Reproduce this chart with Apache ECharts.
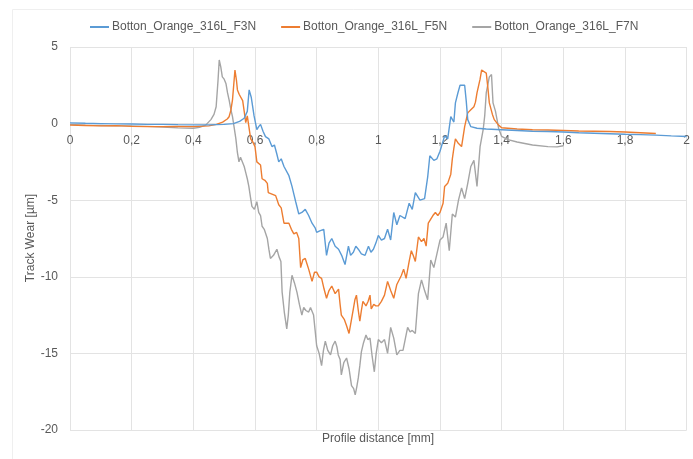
<!DOCTYPE html>
<html>
<head>
<meta charset="utf-8">
<script src="https://cdn.jsdelivr.net/npm/echarts@6/dist/echarts.min.js"></script>
<style>
html,body{margin:0;padding:0;background:#fff;}
#c{width:693px;height:459px;}
</style>
</head>
<body>
<div id="c"></div>
<script>
const seriesNames = ['Botton_Orange_316L_F3N', 'Botton_Orange_316L_F5N', 'Botton_Orange_316L_F7N'];
const xTicks = [0, 0.2, 0.4, 0.6, 0.8, 1, 1.2, 1.4, 1.6, 1.8, 2];
const yTicks = [5, 0, -5, -10, -15, -20];

const xF3 = [0,0.05,0.1,0.15,0.2,0.25,0.3,0.35,0.4,0.45,0.5,0.53,0.55,0.565,0.575,0.581,0.588,0.597,0.606,0.612,0.618,0.626,0.634,0.645,0.655,0.663,0.671,0.677,0.685,0.694,0.70,0.71,0.72,0.726,0.732,0.742,0.752,0.763,0.774,0.785,0.795,0.80,0.81,0.823,0.832,0.84,0.849,0.86,0.871,0.881,0.892,0.903,0.91,0.919,0.927,0.935,0.945,0.957,0.968,0.976,0.984,0.992,1.0,1.01,1.02,1.03,1.04,1.05,1.06,1.07,1.087,1.1,1.11,1.12,1.135,1.15,1.16,1.167,1.18,1.19,1.2,1.215,1.225,1.235,1.245,1.25,1.258,1.265,1.27,1.28,1.285,1.29,1.30,1.32,1.35,1.4,1.45,1.5,1.55,1.6,1.65,1.7,1.75,1.8,1.85,1.9,1.95,2.0];
const yF3 = [0.05,0.02,0.0,-0.02,-0.03,-0.05,-0.05,-0.07,-0.08,-0.08,-0.05,0.0,0.15,0.35,0.8,2.2,1.7,0.5,-0.4,-0.2,-0.05,-0.5,-0.85,-1.0,-1.5,-1.4,-2.0,-2.5,-2.3,-2.8,-2.9,-3.4,-4.1,-4.6,-5.1,-5.9,-5.8,-5.6,-6.0,-6.5,-6.8,-7.1,-7.0,-6.9,-8.6,-7.8,-7.5,-8.0,-8.2,-8.6,-9.2,-8.0,-8.6,-8.4,-8.0,-8.2,-8.5,-8.6,-8.0,-8.4,-8.2,-7.8,-7.3,-7.6,-7.5,-6.9,-7.6,-5.8,-6.6,-6.0,-6.2,-5.2,-5.6,-4.5,-5.0,-4.9,-3.5,-2.1,-2.4,-2.3,-1.8,-0.8,-1.0,0.45,0.1,1.35,2.0,2.5,2.6,2.5,1.5,0.26,-0.2,-0.3,-0.35,-0.4,-0.45,-0.5,-0.52,-0.55,-0.6,-0.63,-0.66,-0.7,-0.72,-0.75,-0.8,-0.84];

const xF5 = [0,0.05,0.1,0.15,0.2,0.25,0.3,0.35,0.4,0.45,0.475,0.495,0.51,0.516,0.522,0.527,0.535,0.54,0.543,0.549,0.555,0.56,0.565,0.57,0.575,0.58,0.586,0.593,0.60,0.606,0.612,0.618,0.623,0.632,0.64,0.643,0.655,0.667,0.677,0.685,0.694,0.70,0.71,0.718,0.726,0.735,0.742,0.748,0.755,0.763,0.774,0.785,0.793,0.80,0.808,0.816,0.824,0.832,0.84,0.849,0.86,0.871,0.876,0.88,0.89,0.897,0.905,0.912,0.919,0.924,0.929,0.935,0.94,0.945,0.95,0.96,0.967,0.973,0.977,0.985,0.992,1.0,1.01,1.02,1.03,1.04,1.05,1.06,1.075,1.082,1.09,1.1,1.107,1.113,1.12,1.13,1.14,1.148,1.155,1.162,1.167,1.177,1.185,1.193,1.2,1.21,1.215,1.225,1.235,1.24,1.245,1.25,1.26,1.27,1.28,1.29,1.30,1.31,1.315,1.32,1.33,1.335,1.34,1.35,1.355,1.36,1.37,1.376,1.39,1.40,1.45,1.5,1.55,1.6,1.65,1.7,1.75,1.8,1.85,1.9];
const yF5 = [-0.1,-0.12,-0.15,-0.13,-0.18,-0.2,-0.2,-0.18,-0.2,-0.15,-0.05,0.1,0.3,0.45,0.9,1.55,3.5,2.8,2.2,1.9,2.0,1.5,0.8,0.06,0.5,0.47,-1.0,-1.2,-1.5,-2.5,-2.4,-2.7,-3.6,-3.7,-3.9,-4.5,-4.6,-4.7,-5.3,-5.5,-6.5,-6.4,-6.5,-6.9,-7.2,-7.1,-7.5,-9.4,-8.9,-8.8,-9.5,-10.3,-9.7,-9.7,-10.0,-10.1,-10.8,-11.4,-10.9,-10.6,-11.1,-10.8,-11.8,-12.5,-12.8,-13.2,-13.7,-12.9,-12.1,-11.5,-11.2,-12.2,-12.9,-12.2,-11.6,-11.9,-11.6,-11.2,-12.1,-11.8,-11.9,-11.9,-11.6,-11.2,-10.3,-10.9,-11.4,-10.5,-9.9,-9.5,-10.1,-9.0,-8.3,-8.6,-9.0,-7.4,-7.7,-7.5,-8.0,-6.5,-6.5,-6.0,-5.8,-6.0,-5.8,-5.2,-4.1,-3.9,-3.3,-2.3,-1.6,-1.0,-1.3,-1.5,-0.2,0.7,0.9,1.1,1.4,2.0,2.9,3.5,3.4,3.3,2.4,1.35,0.6,0.26,-0.1,-0.27,-0.35,-0.4,-0.42,-0.45,-0.48,-0.5,-0.52,-0.55,-0.6,-0.65];

const xF7 = [0,0.05,0.1,0.15,0.2,0.25,0.3,0.35,0.4,0.42,0.44,0.457,0.467,0.474,0.48,0.484,0.489,0.494,0.5,0.506,0.511,0.516,0.522,0.527,0.532,0.538,0.543,0.548,0.553,0.558,0.565,0.57,0.575,0.58,0.586,0.59,0.598,0.606,0.612,0.618,0.623,0.63,0.64,0.645,0.65,0.66,0.671,0.678,0.684,0.688,0.695,0.703,0.708,0.713,0.72,0.728,0.736,0.744,0.752,0.758,0.765,0.774,0.78,0.79,0.795,0.80,0.808,0.816,0.822,0.828,0.836,0.845,0.852,0.86,0.866,0.87,0.876,0.88,0.888,0.897,0.905,0.913,0.92,0.925,0.93,0.935,0.94,0.945,0.952,0.96,0.966,0.973,0.98,0.987,0.993,1.0,1.01,1.02,1.03,1.04,1.05,1.06,1.07,1.08,1.088,1.095,1.103,1.11,1.115,1.12,1.13,1.14,1.15,1.16,1.17,1.18,1.19,1.2,1.21,1.22,1.23,1.24,1.25,1.26,1.27,1.28,1.29,1.30,1.31,1.32,1.33,1.34,1.345,1.35,1.36,1.367,1.372,1.38,1.385,1.39,1.40,1.42,1.45,1.5,1.55,1.58,1.6];
const yF7 = [-0.05,-0.1,-0.12,-0.15,-0.15,-0.18,-0.22,-0.28,-0.3,-0.25,-0.1,0.26,0.6,1.1,2.8,4.15,3.7,3.05,2.9,2.6,2.0,1.55,0.9,0.45,-0.2,-1.0,-1.9,-2.5,-2.2,-2.3,-2.8,-3.2,-3.6,-4.1,-4.9,-5.4,-5.6,-5.1,-5.8,-6.0,-6.7,-6.9,-7.5,-8.2,-8.8,-8.6,-8.2,-8.7,-9.0,-11.0,-12.3,-13.4,-12.5,-11.0,-9.9,-10.4,-11.0,-11.8,-12.5,-12.0,-12.2,-12.3,-12.0,-12.5,-13.5,-14.5,-15.0,-15.8,-14.8,-14.2,-14.8,-15.1,-14.5,-14.2,-14.6,-15.1,-15.4,-16.4,-15.6,-15.3,-16.0,-17.1,-17.3,-17.7,-17.2,-16.6,-15.8,-14.9,-14.3,-13.8,-14.1,-14.0,-15.2,-16.2,-15.0,-14.1,-14.3,-14.1,-15.0,-13.3,-14.0,-15.1,-14.8,-14.8,-14.0,-13.3,-13.6,-13.5,-13.4,-13.7,-11.1,-10.2,-10.9,-11.5,-8.9,-9.4,-8.5,-7.6,-7.4,-6.5,-8.3,-5.9,-6.1,-5.0,-4.2,-4.9,-3.9,-2.8,-2.4,-4.1,-1.5,-0.4,0.5,2.0,3.05,3.2,1.35,0.8,0.26,-0.3,-0.84,-1.05,-1.2,-1.4,-1.5,-1.52,-1.45];

const colors = ['#5B9BD5', '#ED7D31', '#A5A5A5'];
function pairs(xs, ys) { return xs.map((x, i) => [x, ys[i]]); }

const chart = echarts.init(document.getElementById('c'), null, {renderer: 'canvas'});
const font = 'Liberation Sans';
const txt = '#595959';
chart.setOption({
  animation: false,
  backgroundColor: '#ffffff',
  color: colors,
  textStyle: {fontFamily: font},
  legend: {
    top: 16, left: 85,
    itemWidth: 19, itemHeight: 2, itemGap: 25,
    icon: 'rect',
    textStyle: {color: txt, fontSize: 12, fontFamily: font, padding: [0, 0, 0, -2]},
    data: seriesNames
  },
  grid: {left: 70, right: 3, top: 47, bottom: 29, containLabel: false},
  xAxis: {
    type: 'value', min: 0, max: 2, interval: 0.2,
    offset: -307,
    axisLine: {show: false, onZero: false},
    axisTick: {show: false},
    axisLabel: {color: txt, fontSize: 12, margin: 12, fontFamily: font,
      formatter: v => String(+v.toFixed(1)).replace('.', ',')},
    splitLine: {show: true, lineStyle: {color: '#E3E3E3', width: 1}}
  },
  yAxis: {
    type: 'value', min: -20, max: 5, interval: 5,
    axisLine: {show: false}, axisTick: {show: false},
    axisLabel: {color: txt, fontSize: 12, margin: 12, fontFamily: font},
    splitLine: {show: true, lineStyle: {color: '#E3E3E3', width: 1}}
  },
  graphic: [
    {type: 'rect', left: 10, top: 7, shape: {width: 700, height: 451},
     style: {fill: 'none', stroke: '#EFEFEF', lineWidth: 1}, z: -1},
    {type: 'text', left: 322, top: 433,
     style: {text: 'Profile distance [mm]', fill: txt, font: '12px "Liberation Sans"'}},
    {type: 'text', x: 31, y: 238, rotation: Math.PI / 2,
     style: {text: 'Track Wear [µm]', fill: txt, font: '12px "Liberation Sans"', align: 'center', verticalAlign: 'middle'}}
  ],
  series: [
    {name: seriesNames[0], type: 'line', data: pairs(xF3, yF3), showSymbol: false, symbol: 'none', lineStyle: {width: 1.4, color: colors[0]}, z: 3},
    {name: seriesNames[1], type: 'line', data: pairs(xF5, yF5), showSymbol: false, symbol: 'none', lineStyle: {width: 1.4, color: colors[1]}, z: 2},
    {name: seriesNames[2], type: 'line', data: pairs(xF7, yF7), showSymbol: false, symbol: 'none', lineStyle: {width: 1.4, color: colors[2]}, z: 1}
  ]
});
</script>
</body>
</html>
